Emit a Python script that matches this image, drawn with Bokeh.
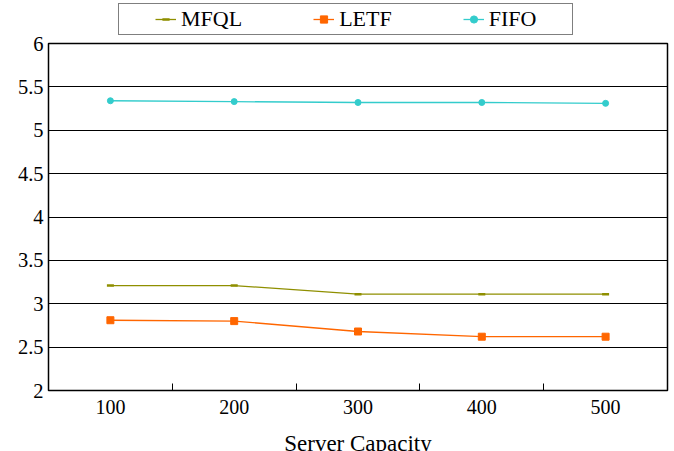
from bokeh.plotting import figure
from bokeh.layouts import column
from bokeh.models import Range1d, FixedTicker, Legend, LegendItem
from bokeh.core.properties import value
from bokeh.embed import file_html
from bokeh.resources import INLINE

# Server capacity on the x axis, mean response metric on the y axis
capacity = [100, 200, 300, 400, 500]
mfql = [3.21, 3.21, 3.11, 3.11, 3.11]
letf = [2.81, 2.80, 2.68, 2.62, 2.62]
fifo = [5.34, 5.33, 5.32, 5.32, 5.31]
y_ticks = [2, 2.5, 3, 3.5, 4, 4.5, 5, 5.5, 6]
y_labels = {2: "2", 2.5: "2.5", 3: "3", 3.5: "3.5", 4: "4", 4.5: "4.5", 5: "5", 5.5: "5.5", 6: "6"}
series_names = ["MFQL", "LETF", "FIFO"]
x_title = "Server Capacity"

SERIF = "Liberation Serif"
olive = "#8f8f00"
orange = "#ff6600"
teal = "#33cccc"


def strip(height):
    """A borderless, axis-free figure used for text rows around the chart."""
    f = figure(width=674, height=height, output_backend="svg", toolbar_location=None,
               x_axis_location=None, y_axis_location=None,
               x_range=Range1d(0, 1), y_range=Range1d(0, 1),
               min_border_left=0, min_border_right=0, min_border_top=0, min_border_bottom=0)
    f.outline_line_color = None
    f.grid.grid_line_color = None
    f.background_fill_color = "white"
    f.border_fill_color = "white"
    return f


def draw_series(fig, xs, ys, color, marker, size):
    ln = fig.line(xs, ys, line_color=color, line_width=1.3)
    if marker == "dash":
        mk = fig.scatter(xs, ys, marker="dash", size=size, line_color=color, line_width=2.5)
    else:
        mk = fig.scatter(xs, ys, marker=marker, size=size, fill_color=color, line_color=color)
    return [ln, mk]


styles = [(olive, "dash", 7), (orange, "square", 7), (teal, "circle", 6)]

# ---- main chart ----
p = figure(width=674, height=389, output_backend="svg", toolbar_location=None,
           x_range=Range1d(50, 550), y_range=Range1d(2, 6),
           min_border_left=48, min_border_right=7, min_border_top=7, min_border_bottom=35)

p.background_fill_color = "white"
p.border_fill_color = "white"
p.outline_line_color = "black"
p.outline_line_width = 1.5

# x axis: labels at the capacities, small inward ticks between them
p.xaxis.ticker = FixedTicker(ticks=capacity, minor_ticks=[150, 250, 350, 450])
p.xaxis.major_tick_in = 0
p.xaxis.major_tick_out = 0
p.xaxis.minor_tick_in = 7
p.xaxis.minor_tick_out = 0
p.xaxis.minor_tick_line_color = "black"
p.xaxis.axis_line_color = None
p.xaxis.major_label_text_font = SERIF
p.xaxis.major_label_text_font_size = "20px"
p.xaxis.major_label_text_color = "black"
p.xaxis.major_label_standoff = 9

p.yaxis.ticker = FixedTicker(ticks=y_ticks)
p.yaxis.major_label_overrides = y_labels
p.yaxis.major_tick_in = 0
p.yaxis.major_tick_out = 0
p.yaxis.minor_tick_line_color = None
p.yaxis.axis_line_color = None
p.yaxis.major_label_text_font = SERIF
p.yaxis.major_label_text_font_size = "20.5px"
p.yaxis.major_label_text_color = "black"
p.yaxis.major_label_standoff = 5

p.xgrid.grid_line_color = None
p.ygrid.grid_line_color = "black"
p.ygrid.grid_line_width = 1

for ys, (color, marker, size) in zip([mfql, letf, fifo], styles):
    draw_series(p, capacity, ys, color, marker, size)

# ---- legend row above the chart ----
top = strip(36)
items = []
for name, (color, marker, size) in zip(series_names, styles):
    # off-range sample renderers carry the series styling into the legend
    items.append(LegendItem(label=name, renderers=draw_series(top, [-10], [-10], color, marker, size)))

legend = Legend(items=items, orientation="horizontal", location=(70, 1),
                label_text_font=SERIF, label_text_font_size="22px",
                label_text_color="black", glyph_width=21, glyph_height=18,
                label_standoff=5, spacing=71,
                border_line_color="black", border_line_width=1.2,
                background_fill_alpha=1.0, margin=0)
try:
    legend.padding = (36, 2)
except Exception:
    legend.padding = 2
top.add_layout(legend, "center")

# ---- x axis title row below the chart ----
bottom = strip(26)
bottom.text(x=[0.5], y=[0.31], text=[x_title], text_align="center", text_baseline="alphabetic",
            text_font=value(SERIF), text_font_size="23px", text_color="black")

layout = column(top, p, bottom, spacing=0)
open("out.html", "w").write(file_html(layout, INLINE))
